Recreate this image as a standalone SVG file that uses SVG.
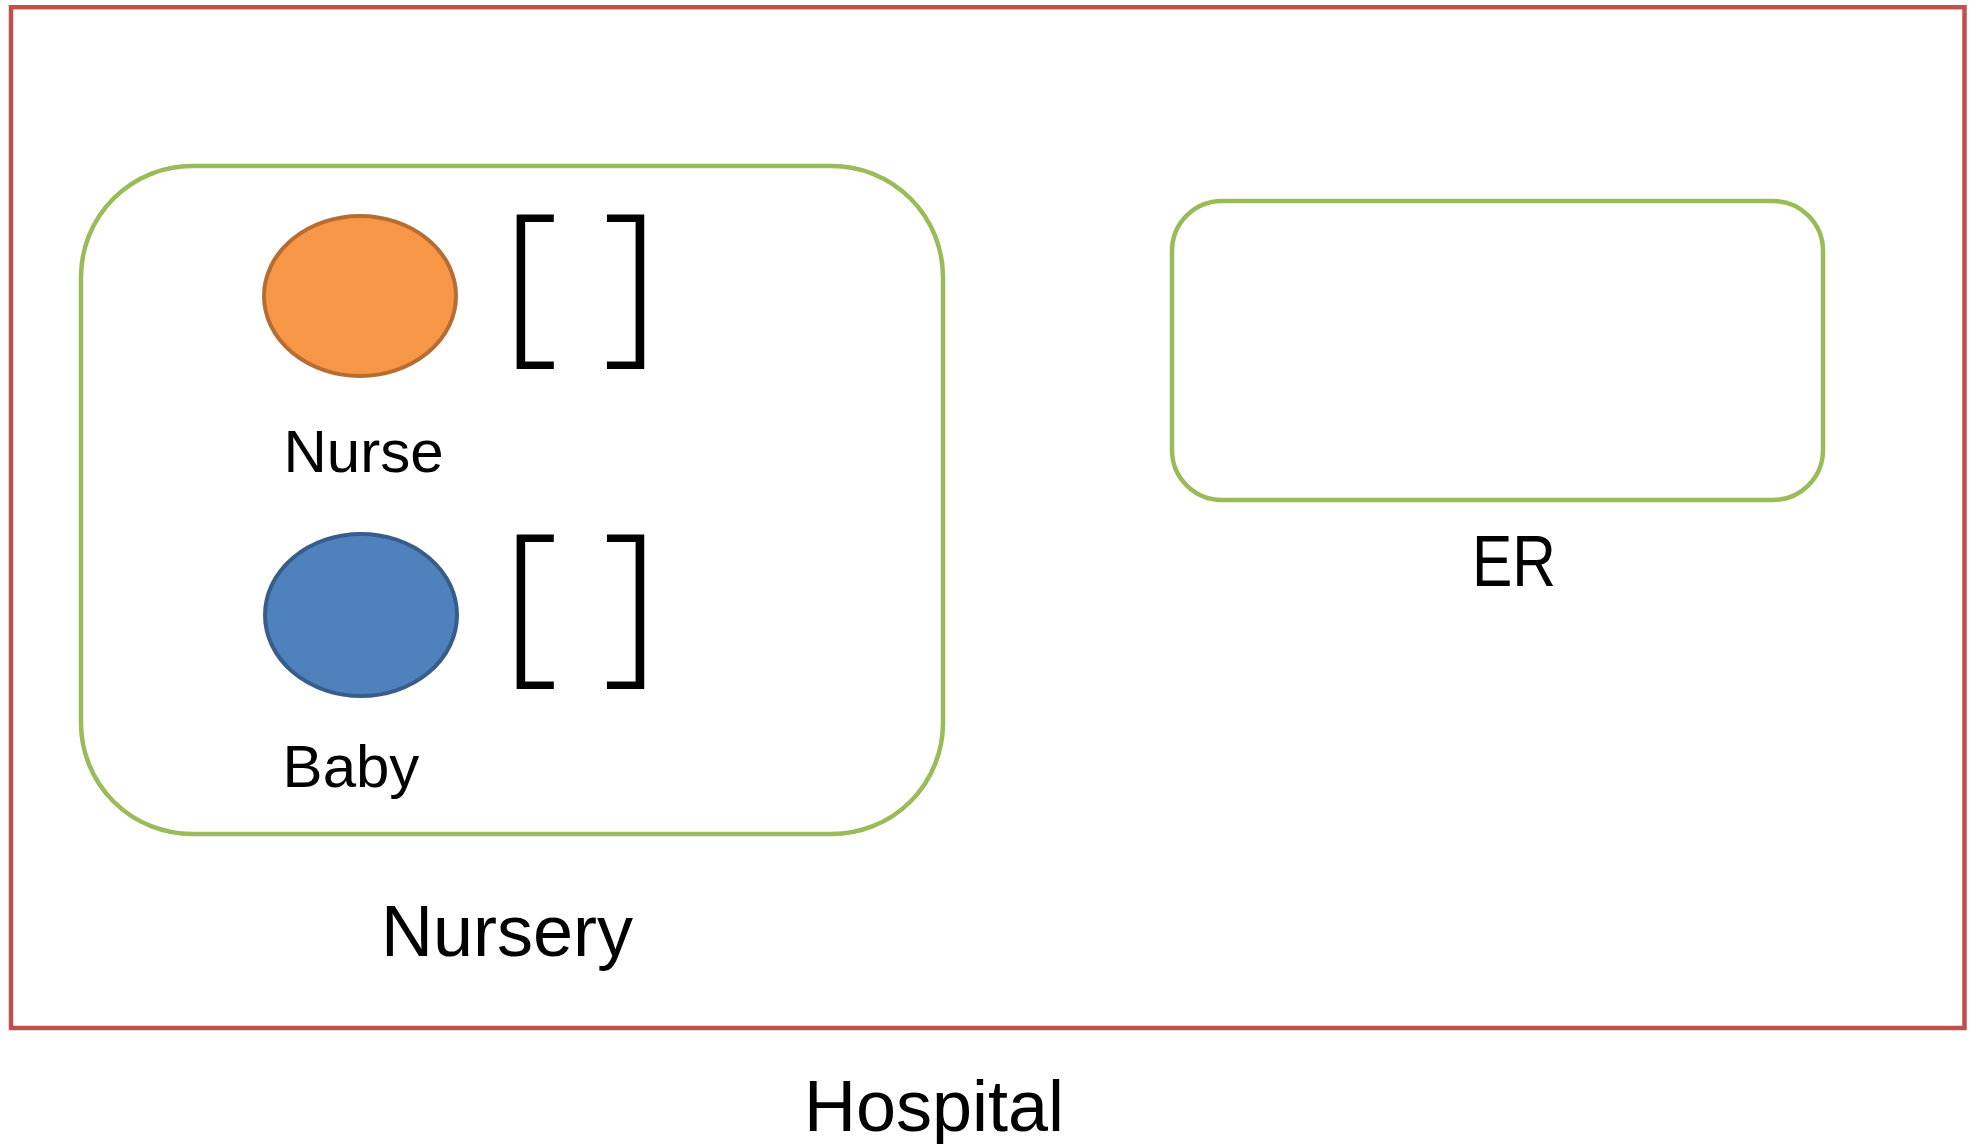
<svg xmlns="http://www.w3.org/2000/svg" width="1976" height="1144" viewBox="0 0 1976 1144">
  <style>
    .room { fill: none; stroke: #9BBB59; stroke-width: 4.5; }
    .label { font-family: "Liberation Sans", Arial, sans-serif; fill: #000; }
    .bracket { font-family: "Open Sans", "Liberation Sans", sans-serif; font-weight: 300; font-size: 178px; fill: #000; }
  </style>
  <rect width="1976" height="1144" fill="#ffffff"/>

  <g id="hospital">
    <rect x="11" y="7.2" width="1953.5" height="1020.8" fill="none" stroke="#C0504D" stroke-width="4.5"/>
    <text class="label" x="934" y="1131" font-size="72" text-anchor="middle">Hospital</text>
  </g>

  <g id="nursery">
    <rect class="room" x="81" y="166" width="862" height="668" rx="111" ry="111"/>
    <text class="label" x="507" y="955.5" font-size="72" text-anchor="middle">Nursery</text>
  </g>

  <g id="er">
    <rect class="room" x="1172" y="201" width="651" height="299" rx="50" ry="50"/>
    <text class="label" x="1514" y="586" font-size="72" text-anchor="middle" textLength="84" lengthAdjust="spacingAndGlyphs">ER</text>
  </g>

  <g id="nurse">
    <ellipse cx="360" cy="296" rx="96" ry="80" fill="#F79646" stroke="#B66D31" stroke-width="4"/>
    <text class="label" x="363.5" y="472" font-size="60" text-anchor="middle">Nurse</text>
    <text class="bracket" y="341"><tspan x="530" text-anchor="middle">[</tspan><tspan x="631" text-anchor="middle">]</tspan></text>
  </g>

  <g id="baby">
    <ellipse cx="361" cy="615" rx="96" ry="81" fill="#4F81BD" stroke="#385D8A" stroke-width="4"/>
    <text class="label" x="351" y="787" font-size="60" text-anchor="middle">Baby</text>
    <text class="bracket" y="661"><tspan x="530" text-anchor="middle">[</tspan><tspan x="631" text-anchor="middle">]</tspan></text>
  </g>

  <g id="connectors"></g>
</svg>
